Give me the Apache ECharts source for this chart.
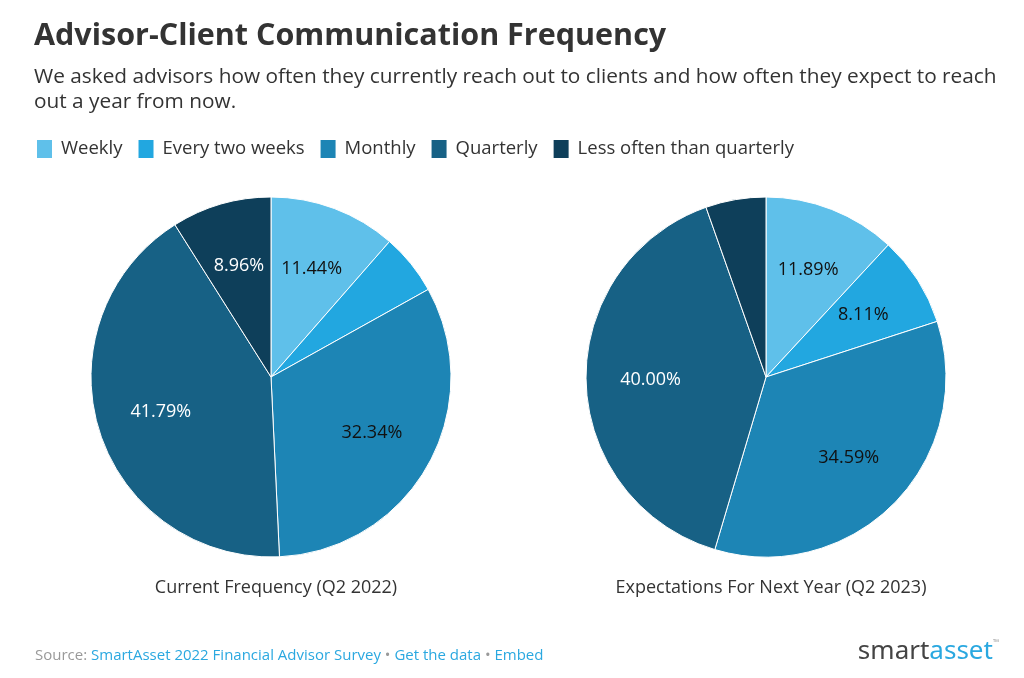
<!DOCTYPE html>
<html><head><meta charset="utf-8">
<script src="https://cdn.jsdelivr.net/npm/echarts@6/dist/echarts.min.js"></script>
<style>html,body{margin:0;padding:0;background:#fff}#c{width:1024px;height:678px}</style>
</head><body><div id="c"></div>
<script>
const categories = ['Weekly', 'Every two weeks', 'Monthly', 'Quarterly', 'Less often than quarterly'];
const currentValues = [11.44, 5.47, 32.34, 41.79, 8.96];
const nextYearValues = [11.89, 8.11, 34.59, 40.00, 5.41];
const pieTitles = ['Current Frequency (Q2 2022)', 'Expectations For Next Year (Q2 2023)'];
const colors = ['#5fc0ea', '#22a7e0', '#1d85b5', '#176185', '#0e3f5a'];
const labelColors = ['#111', '#111', '#111', '#fff', '#fff'];
const FONT = '"Open Sans", "Noto Sans", sans-serif';
const centers = [[271, 377], [766, 377]];
const R = 180;

function pieData(vals){
  return categories.map((n,i)=>({name:n, value:vals[i], itemStyle:{color:colors[i]}}));
}
function labelData(vals){
  return categories.map((n,i)=>({name:n, value:vals[i],
    label:{show: vals[i] >= 7, color: labelColors[i]}}));
}
const series = [];
[currentValues, nextYearValues].forEach((vals, k)=>{
  series.push({
    type:'pie', center:centers[k], radius:[0,R], startAngle:90, clockwise:true,
    data:pieData(vals), label:{show:false}, labelLine:{show:false},
    itemStyle:{borderColor:'#fff', borderWidth:1}, silent:true, animation:false
  });
  series.push({
    type:'pie', center:centers[k], radius:[0,R*1.25], startAngle:90, clockwise:true,
    data:labelData(vals), itemStyle:{color:'rgba(0,0,0,0)'}, labelLine:{show:false},
    label:{position:'inside', fontFamily:FONT, fontSize:18,
      formatter: p => p.value.toFixed(2) + '%'},
    silent:true, animation:false, legendHoverLink:false
  });
});

const chart = echarts.init(document.getElementById('c'), null, {renderer:'canvas'});
chart.setOption({
  backgroundColor:'#fff',
  animation:false,
  color: colors,
  title:[
    {text:'Advisor-Client Communication Frequency', left:29, top:16,
      textStyle:{fontFamily:FONT, fontSize:30.5, fontWeight:'bold', color:'#333'}},
    {text:'We asked advisors how often they currently reach out to clients and how often they expect to reach\nout a year from now.',
      left:29, top:60, textStyle:{fontFamily:FONT, fontSize:20.8, fontWeight:'normal', color:'#333', lineHeight:25}},
    {text:pieTitles[0], left:centers[0][0], top:574, textAlign:'center',
      textStyle:{fontFamily:FONT, fontSize:18, fontWeight:'normal', color:'#333'}},
    {text:pieTitles[1], left:centers[1][0], top:574, textAlign:'center',
      textStyle:{fontFamily:FONT, fontSize:18, fontWeight:'normal', color:'#333'}},
    {text:'{g|Source: }{b|SmartAsset 2022 Financial Advisor Survey}{g| • }{b|Get the data}{g| • }{b|Embed}',
      left:30, top:643, textStyle:{fontWeight:'normal', rich:{
        g:{fontFamily:FONT, fontSize:15, color:'#999', fontWeight:'normal'},
        b:{fontFamily:FONT, fontSize:15, color:'#2aa8e0', fontWeight:'normal'}}}},
    {text:'{s|smart}{a|asset}{t|™}', right:20, top:634, textStyle:{fontWeight:'normal', rich:{
        s:{fontFamily:'"Noto Sans", sans-serif', fontSize:26, color:'#444', fontWeight:'normal'},
        a:{fontFamily:'"Noto Sans", sans-serif', fontSize:26, color:'#2aa8e0', fontWeight:'normal'},
        t:{fontFamily:FONT, fontSize:8, color:'#999', verticalAlign:'top', padding:[0,0,14,0]}}}}
  ],
  legend:{
    data:categories, left:30, top:133, icon:'rect', itemWidth:17, itemHeight:20, itemGap:14,
    selectedMode:false,
    textStyle:{fontFamily:FONT, fontSize:18.5, color:'#333', padding:[0,0,0,3]}
  },
  series: series
});
</script></body></html>
